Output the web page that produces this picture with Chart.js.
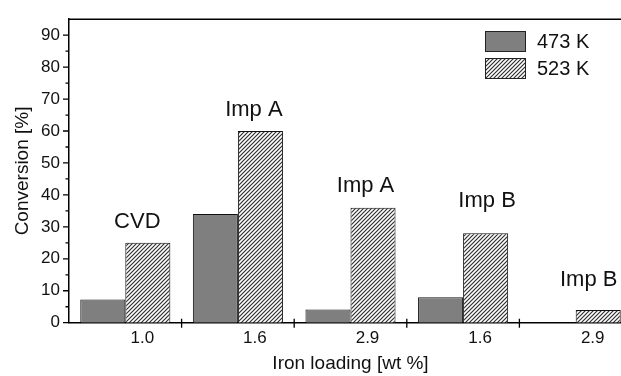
<!DOCTYPE html>
<html>
<head>
<meta charset="utf-8">
<script src="https://cdn.jsdelivr.net/npm/chart.js@4.4.0/dist/chart.umd.min.js"></script>
<style>
html,body{margin:0;padding:0;background:#fff;overflow:hidden;}
#wrap{width:650px;height:376px;}
</style>
</head>
<body>
<div id="wrap"><canvas id="c" width="650" height="376"></canvas></div>
<script>
// ---- data ----
const categories = ['1.0', '1.6', '2.9', '1.6', '2.9'];
const seriesNames = ['473 K', '523 K'];
const values473 = [7.3, 34, 4.1, 8, 0];
const values523 = [25, 60, 36, 28, 4];
const groupLabels = ['CVD', 'Imp A', 'Imp A', 'Imp B', 'Imp B'];
const yTickValues = [0, 10, 20, 30, 40, 50, 60, 70, 80, 90];
const yMin = 0, yMax = 95;

// ---- layout/style constants ----
const FONT = '"Liberation Sans", Arial, Helvetica, sans-serif';
const labelDx = [12, 16, 15, 24, 13];
const labelDy = [-21, -21, -22, -32, -30];

function makeHatch() {
  const s = 4;
  const pc = document.createElement('canvas');
  pc.width = s; pc.height = s;
  const g = pc.getContext('2d');
  g.fillStyle = '#fff';
  g.fillRect(0, 0, s, s);
  g.strokeStyle = '#303030';
  g.lineWidth = 1.2;
  g.beginPath();
  g.moveTo(-1, s + 1); g.lineTo(s + 1, -1);
  g.moveTo(-1, 1); g.lineTo(1, -1);
  g.moveTo(s - 1, s + 1); g.lineTo(s + 1, s - 1);
  g.stroke();
  return document.getElementById('c').getContext('2d').createPattern(pc, 'repeat');
}
const hatch = makeHatch();
const gray = '#7f7f7f';

const decor = {
  id: 'decor',
  afterDraw(chart) {
    const ctx = chart.ctx;
    const ca = chart.chartArea;
    const xs = chart.scales.x, ys = chart.scales.y;
    ctx.save();
    ctx.strokeStyle = '#000';
    // frame top/right
    ctx.lineWidth = 1.5;
    ctx.beginPath();
    ctx.moveTo(ca.left, ca.top); ctx.lineTo(ca.right, ca.top); ctx.lineTo(ca.right, ca.bottom);
    ctx.stroke();
    // y ticks
    ctx.lineWidth = 1.3;
    ctx.beginPath();
    yTickValues.forEach(v => {
      const y = ys.getPixelForValue(v);
      ctx.moveTo(ca.left - 6, y); ctx.lineTo(ca.left, y);
      const ym = ys.getPixelForValue(v + 5);
      if (v + 5 < yMax) { ctx.moveTo(ca.left - 3.5, ym); ctx.lineTo(ca.left, ym); }
    });
    // x ticks at category boundaries
    for (let i = 0; i < categories.length - 1; i++) {
      const x = (xs.getPixelForValue(i) + xs.getPixelForValue(i + 1)) / 2;
      ctx.moveTo(x, ca.bottom - 4); ctx.lineTo(x, ca.bottom + 5);
    }
    ctx.stroke();
    // group labels
    ctx.fillStyle = '#111';
    ctx.font = '22px ' + FONT;
    ctx.textAlign = 'center';
    ctx.textBaseline = 'middle';
    groupLabels.forEach((t, i) => {
      const x = xs.getPixelForValue(i) + labelDx[i];
      const y = ys.getPixelForValue(values523[i]) + labelDy[i];
      ctx.fillText(t, x, y);
    });
    // legend
    const fills = [gray, hatch];
    ctx.font = '20px ' + FONT;
    ctx.textAlign = 'left';
    seriesNames.forEach((n, i) => {
      const by = 31 + i * 27;
      ctx.fillStyle = fills[i];
      ctx.fillRect(485, by, 41, 21);
      ctx.lineWidth = 1;
      ctx.strokeStyle = '#222';
      ctx.strokeRect(485.5, by + 0.5, 40, 20);
      ctx.fillStyle = '#111';
      ctx.fillText(n, 537, by + 11);
    });
    ctx.restore();
  }
};

new Chart(document.getElementById('c'), {
  type: 'bar',
  data: {
    labels: categories,
    datasets: [
      { label: seriesNames[0], data: values473, backgroundColor: gray, borderColor: '#111', borderWidth: 1 },
      { label: seriesNames[1], data: values523, backgroundColor: hatch, borderColor: '#111', borderWidth: 1 }
    ]
  },
  options: {
    responsive: false,
    animation: false,
    layout: { padding: { top: 15, right: 18, left: 0, bottom: 0 } },
    plugins: { legend: { display: false }, tooltip: { enabled: false } },
    datasets: { bar: { categoryPercentage: 0.8, barPercentage: 1.0 } },
    scales: {
      x: {
        grid: { display: false, drawTicks: false },
        border: { display: true, color: '#000', width: 1.5 },
        ticks: { color: '#111', font: { family: FONT, size: 17 }, padding: 5, labelOffset: 17, maxRotation: 0 },
        title: { display: true, text: 'Iron loading [wt %]', color: '#111', font: { family: FONT, size: 19 }, padding: { top: 0, bottom: 1 } },
        afterFit(s) { s.height = 53.3; }
      },
      y: {
        min: yMin, max: yMax,
        grid: { display: false, drawTicks: false },
        border: { display: true, color: '#000', width: 1.5 },
        ticks: { stepSize: 10, color: '#111', font: { family: FONT, size: 17 }, padding: 9 },
        afterBuildTicks(s) { s.ticks = yTickValues.map(v => ({ value: v })); },
        title: { display: true, text: 'Conversion [%]', color: '#111', font: { family: FONT, size: 19 }, padding: { top: 11, bottom: 0 } },
        afterFit(s) { s.width = 69; }
      }
    }
  },
  plugins: [decor]
});
</script>
</body>
</html>
